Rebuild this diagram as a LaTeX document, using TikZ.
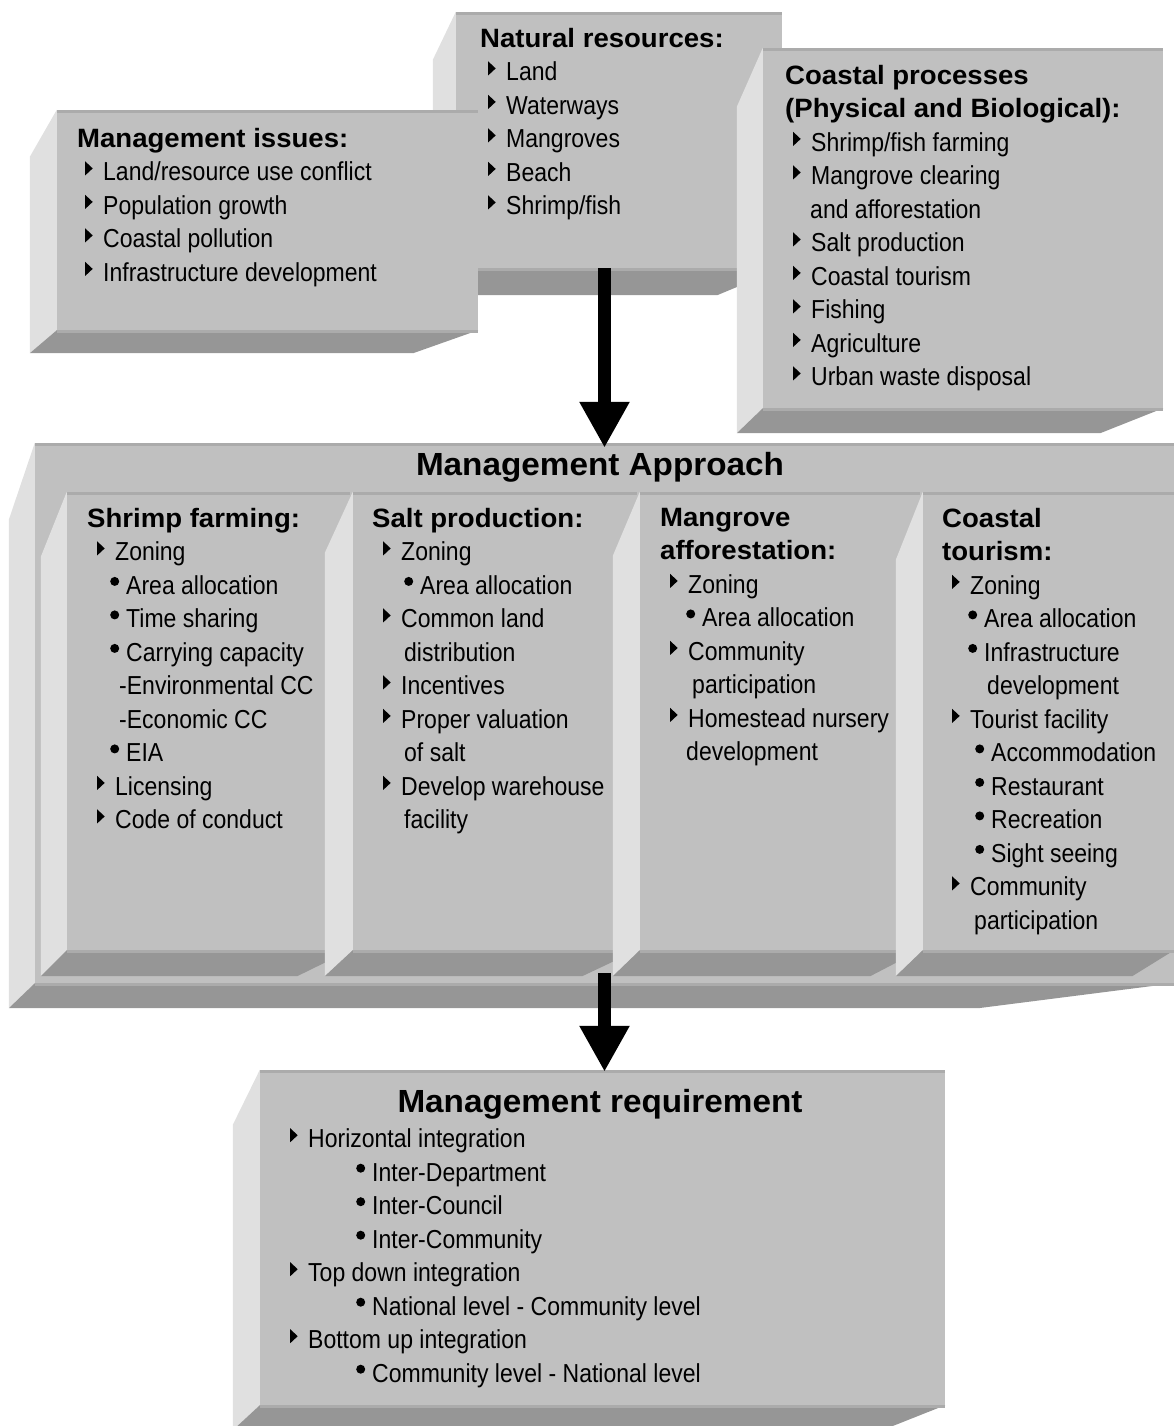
\documentclass[tikz,border=0pt]{standalone}
\usepackage{fontspec}
\setmainfont{Liberation Sans}
\newfontfamily\narrowsans[FakeStretch=0.885]{Liberation Sans}
\newfontfamily\widesans[FakeStretch=1.04]{Liberation Sans}
\usetikzlibrary{calc,arrows.meta}

\definecolor{facegray}{HTML}{C0C0C0}
\definecolor{sidegray}{HTML}{E0E0E0}
\definecolor{basegray}{HTML}{969696}
\definecolor{edgegray}{HTML}{ABABAB}

\newcommand{\itemfont}{\narrowsans\fontsize{26}{33.5}\selectfont}
\newcommand{\headfont}{\widesans\bfseries\fontsize{26.5}{33.5}\selectfont}
\newcommand{\titlefont}{\widesans\bfseries\fontsize{32}{38}\selectfont}

% bullets
\newcommand{\tri}{\tikz[baseline=0pt]{\path (0pt,0pt); \fill (0pt,5.5pt) -- (0pt,19.5pt) -- (7.5pt,12.5pt) -- cycle;}\hspace{10.5pt}}
\newcommand{\dotb}{\tikz[baseline=0pt]{\path (0pt,0pt); \fill (4.5pt,13pt) circle[radius=4.5pt];}\hspace{7pt}}

% 3D faces of a box: name, depth x, side slant, depth y, right inset
\newcommand{\bevelbox}[5]{%
  \fill[sidegray] (#1.north west) -- ($(#1.north west)+(-#2,#3)$) -- ($(#1.south west)+(-#2,#4)$) -- (#1.south west) -- cycle;
  \fill[basegray] (#1.south west) -- ($(#1.south west)+(-#2,#4)$) -- ($(#1.south east)+(-#5,#4)$) -- (#1.south east) -- cycle;
  \draw[edge] ($(#1.north west)+(0,1.5)$) -- ($(#1.north east)+(0,1.5)$);
  \draw[edge] ($(#1.south west)+(0,1.5)$) -- ($(#1.south east)+(0,1.5)$);
}

\tikzset{
  front/.style={fill=facegray, draw=none, inner sep=0pt},
  edge/.style={edgegray, line width=3pt},
  txt/.style={anchor=north west, inner sep=0pt, align=left, font=\itemfont},
  bigarrow/.style={line width=13pt, -{Triangle[length=46pt,width=47pt]}}
}

\begin{document}
\begin{tikzpicture}[x=1pt, y=-1pt]
  \useasboundingbox (0,0) rectangle (1174,1426);

  % Natural resources
  \node[front, minimum width=326, minimum height=256] (nat) at (619,140) {};
  \bevelbox{nat}{23}{48}{27}{65}
  \node[txt] (nattxt) at (480,28) {{\headfont Natural resources:}\\
    \hspace*{8pt}\tri Land\\
    \hspace*{8pt}\tri Waterways\\
    \hspace*{8pt}\tri Mangroves\\
    \hspace*{8pt}\tri Beach\\
    \hspace*{8pt}\tri Shrimp/fish};

  % Management issues
  \node[front, minimum width=421, minimum height=220] (iss) at (267.5,220) {};
  \bevelbox{iss}{27}{47}{23}{65}
  \node[txt] (isstxt) at (77,128) {{\headfont Management issues:}\\
    \hspace*{8pt}\tri Land/resource use conflict\\
    \hspace*{8pt}\tri Population growth\\
    \hspace*{8pt}\tri Coastal pollution\\
    \hspace*{8pt}\tri Infrastructure development};

  % Coastal processes
  \node[front, minimum width=400, minimum height=360] (proc) at (963,228) {};
  \bevelbox{proc}{26}{59}{25}{63}
  \node[txt] (proctxt) at (785,65) {{\headfont Coastal processes}\\
    {\headfont (Physical and Biological):}\\
    \hspace*{8pt}\tri Shrimp/fish farming\\
    \hspace*{8pt}\tri Mangrove clearing\\
    \hspace*{25pt}and afforestation\\
    \hspace*{8pt}\tri Salt production\\
    \hspace*{8pt}\tri Coastal tourism\\
    \hspace*{8pt}\tri Fishing\\
    \hspace*{8pt}\tri Agriculture\\
    \hspace*{8pt}\tri Urban waste disposal};

  % Management Approach
  \node[front, minimum width=1139, minimum height=540] (appr) at (604.5,713) {};
  \bevelbox{appr}{26}{77}{25}{196}
  \node[anchor=base, inner sep=0pt, font=\titlefont] (apprtitle) at (600,475) {Management Approach};

  % Shrimp farming
  \node[front, minimum width=283, minimum height=458] (shrimp) at (208.5,721) {};
  \bevelbox{shrimp}{26}{65}{26}{53}
  \node[txt] (shrimptxt) at (87,508) {{\headfont Shrimp farming:}\\
    \hspace*{10pt}\tri Zoning\\
    \hspace*{23pt}\dotb Area allocation\\
    \hspace*{23pt}\dotb Time sharing\\
    \hspace*{23pt}\dotb Carrying capacity\\
    \hspace*{32pt}-Environmental CC\\
    \hspace*{32pt}-Economic CC\\
    \hspace*{23pt}\dotb EIA\\
    \hspace*{10pt}\tri Licensing\\
    \hspace*{10pt}\tri Code of conduct};

  % Salt production
  \node[front, minimum width=284, minimum height=458] (salt) at (495,721) {};
  \bevelbox{salt}{28}{61}{26}{55}
  \node[txt] (salttxt) at (372,508) {{\headfont Salt production:}\\
    \hspace*{11pt}\tri Zoning\\
    \hspace*{32pt}\dotb Area allocation\\
    \hspace*{11pt}\tri Common land\\
    \hspace*{32pt}distribution\\
    \hspace*{11pt}\tri Incentives\\
    \hspace*{11pt}\tri Proper valuation\\
    \hspace*{32pt}of salt\\
    \hspace*{11pt}\tri Develop warehouse\\
    \hspace*{32pt}facility};

  % Mangrove afforestation
  \node[front, minimum width=280, minimum height=458] (mang) at (780,721) {};
  \bevelbox{mang}{27}{64}{26}{50}
  \node[txt] (mangtxt) at (660,508) {{\headfont Mangrove}\\
    {\headfont afforestation:}\\
    \hspace*{10pt}\tri Zoning\\
    \hspace*{26pt}\dotb Area allocation\\
    \hspace*{10pt}\tri Community\\
    \hspace*{32pt}participation\\
    \hspace*{10pt}\tri Homestead nursery\\
    \hspace*{26pt}development};

  % Coastal tourism
  \node[front, minimum width=251, minimum height=458] (tour) at (1048.5,721) {};
  \bevelbox{tour}{27}{68}{26}{42}
  \node[txt] (tourtxt) at (942,508) {{\headfont Coastal}\\
    {\headfont tourism:}\\
    \hspace*{10pt}\tri Zoning\\
    \hspace*{26pt}\dotb Area allocation\\
    \hspace*{26pt}\dotb Infrastructure\\
    \hspace*{45pt}development\\
    \hspace*{10pt}\tri Tourist facility\\
    \hspace*{33pt}\dotb Accommodation\\
    \hspace*{33pt}\dotb Restaurant\\
    \hspace*{33pt}\dotb Recreation\\
    \hspace*{33pt}\dotb Sight seeing\\
    \hspace*{10pt}\tri Community\\
    \hspace*{32pt}participation};

  % Arrow into the approach
  \draw[bigarrow, shorten >=-5pt] (appr.north |- nat.south) -- (appr.north);

  % Management requirement
  \node[front, minimum width=685, minimum height=335] (req) at (602.5,1237.5) {};
  \bevelbox{req}{27}{55}{25}{63}
  \node[anchor=base, inner sep=0pt, font=\titlefont] (reqtitle) at (600,1112) {Management requirement};
  \node[txt] (reqtxt) at (290,1128) {\tri Horizontal integration\\
    \hspace*{66pt}\dotb Inter-Department\\
    \hspace*{66pt}\dotb Inter-Council\\
    \hspace*{66pt}\dotb Inter-Community\\
    \tri Top down integration\\
    \hspace*{66pt}\dotb National level - Community level\\
    \tri Bottom up integration\\
    \hspace*{66pt}\dotb Community level - National level};

  % Arrow into the requirement
  \draw[bigarrow, shorten <=-10pt, shorten >=-2pt] (appr.south) -- (req.north -| appr.south);
\end{tikzpicture}
\end{document}
